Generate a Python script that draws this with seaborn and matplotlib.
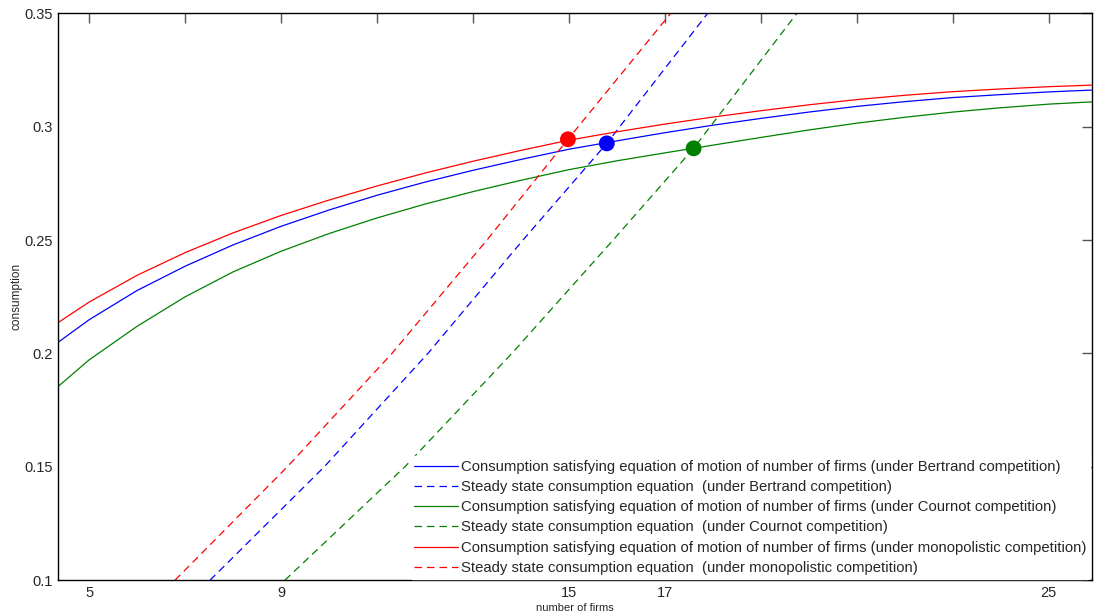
import matplotlib
matplotlib.use("Agg")
import matplotlib.pyplot as plt
import seaborn as sns
import pandas as pd

# ---- data ----
n_firms = [4.35, 5, 6, 7, 8, 9, 10, 11, 12, 13, 14, 15, 16, 17, 18, 19, 20, 21, 22, 23, 24, 25, 25.9]
c_monop = [0.2136, 0.2227, 0.2345, 0.2445, 0.2532, 0.2609, 0.2677, 0.2739, 0.2796, 0.2848, 0.2896,
           0.2941, 0.2978, 0.3012, 0.3043, 0.3071, 0.3097, 0.3120, 0.3139, 0.3155, 0.3167, 0.3177, 0.3184]
c_bertrand = [0.2049, 0.2149, 0.2278, 0.2385, 0.2479, 0.2561, 0.2633, 0.2698, 0.2756, 0.2808, 0.2856,
              0.2901, 0.2938, 0.2974, 0.3007, 0.3037, 0.3065, 0.3090, 0.3111, 0.3129, 0.3142, 0.3154, 0.3162]
c_cournot = [0.1854, 0.1972, 0.2120, 0.2250, 0.2360, 0.2451, 0.2529, 0.2598, 0.2659, 0.2714, 0.2764,
             0.2811, 0.2850, 0.2885, 0.2919, 0.2953, 0.2986, 0.3016, 0.3042, 0.3065, 0.3084, 0.3100, 0.3110]

ss_bertrand_x = [7.52, 9.90, 12.06, 14.04, 15.79, 17.89]
ss_bertrand_y = [0.10, 0.15, 0.20, 0.25, 0.2927, 0.35]
ss_cournot_x = [9.08, 11.58, 13.81, 15.92, 17.60, 19.75]
ss_cournot_y = [0.10, 0.15, 0.20, 0.25, 0.2905, 0.35]
ss_monop_x = [6.79, 9.13, 11.31, 13.29, 14.98, 17.12]
ss_monop_y = [0.10, 0.15, 0.20, 0.25, 0.2945, 0.35]

eq_x = [15.79, 17.60, 14.98]
eq_y = [0.2927, 0.2905, 0.2945]
eq_names = ["Bertrand", "Cournot", "monopolistic"]

x_ticks = [5, 7, 9, 11, 13, 15, 17, 19, 21, 23, 25]
x_ticklabels = ["5", "", "9", "", "", "15", "17", "", "", "", "25"]
y_ticks = [0.1, 0.15, 0.2, 0.25, 0.3, 0.35]
y_ticklabels = ["0.1", "0.15", "0.2", "0.25", "0.3", "0.35"]

sns.set_style("white")
plt.rcParams["font.family"] = ["Liberation Sans", "DejaVu Sans"]

fig = plt.figure(figsize=(10.94, 6.12), dpi=100)
ax = fig.add_axes([0.053, 0.052, 0.945, 0.926])

colors = {"Bertrand": "#0000ff", "Cournot": "#008000", "monopolistic": "#ff0000"}
solid = {"Bertrand": c_bertrand, "Cournot": c_cournot, "monopolistic": c_monop}
steady = {"Bertrand": (ss_bertrand_x, ss_bertrand_y),
          "Cournot": (ss_cournot_x, ss_cournot_y),
          "monopolistic": (ss_monop_x, ss_monop_y)}

for name in ["Bertrand", "Cournot", "monopolistic"]:
    df = pd.DataFrame({"x": n_firms, "y": solid[name]})
    sns.lineplot(data=df, x="x", y="y", ax=ax, color=colors[name], lw=0.9,
                 label=f"Consumption satisfying equation of motion of number of firms (under {name} competition)")
    sx, sy = steady[name]
    df2 = pd.DataFrame({"x": sx, "y": sy})
    sns.lineplot(data=df2, x="x", y="y", ax=ax, color=colors[name], lw=0.9, sort=False,
                 dashes=False, linestyle=(0, (6, 4)),
                 label=f"Steady state consumption equation  (under {name} competition)")

eq_df = pd.DataFrame({"x": eq_x, "y": eq_y, "c": eq_names})
sns.scatterplot(data=eq_df, x="x", y="y", hue="c", palette=colors, s=130,
                edgecolor="none", ax=ax, legend=False, zorder=5)

ax.set_xlim(4.35, 25.9)
ax.set_ylim(0.1, 0.35)
ax.set_xticks(x_ticks)
ax.set_xticklabels(x_ticklabels)
ax.set_yticks(y_ticks)
ax.set_yticklabels(y_ticklabels)
ax.tick_params(direction="in", length=7, width=1, color="#555555",
               top=True, right=True, labelsize=10.5, pad=4)
ax.set_xlabel("number of firms", fontsize=8, labelpad=2)
ax.set_ylabel("consumption", fontsize=8.5, labelpad=1)
for s in ax.spines.values():
    s.set_visible(True)
    s.set_color("black")
    s.set_linewidth(1.0)

leg = ax.legend(loc="lower right", fontsize=10.7, frameon=True, facecolor="white",
                edgecolor="white", framealpha=1.0, handlelength=3.0,
                handletextpad=0.2, labelspacing=0.42, borderpad=0.25,
                borderaxespad=0.1)

fig.savefig("out.png", dpi=100)
